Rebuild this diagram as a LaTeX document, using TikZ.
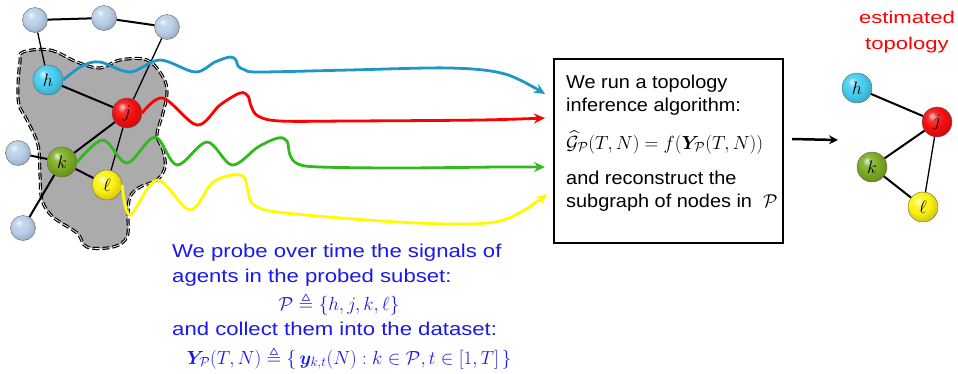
\RequirePackage{fix-cm}
\documentclass[tikz,border=0pt]{standalone}
\usepackage{amsmath,amssymb,bm}
\usepackage{fontspec}
\setmainfont{Liberation Sans}
\newfontfamily\boxfont[FakeStretch=1.07]{Liberation Sans}
\newfontfamily\bluefont[FakeStretch=1.19]{Liberation Sans}
\newfontfamily\redfont[FakeStretch=1.3]{Liberation Sans}
\usetikzlibrary{arrows.meta,shapes.geometric}
\definecolor{steel}{RGB}{185,208,232}
\definecolor{hcol}{RGB}{70,205,240}
\definecolor{jcol}{RGB}{245,15,15}
\definecolor{kcol}{RGB}{125,172,35}
\definecolor{lcol}{RGB}{252,242,20}
\definecolor{wblue}{RGB}{30,150,200}
\definecolor{wred}{RGB}{255,0,0}
\definecolor{wgreen}{RGB}{50,185,30}
\definecolor{wyellow}{RGB}{255,250,0}
\definecolor{txtblue}{RGB}{25,25,235}
\makeatletter
\pgfdeclareradialshading[tikz@ball]{glossy}{\pgfqpoint{-9bp}{11bp}}{%
  color(0bp)=(tikz@ball!20!white); color(8bp)=(tikz@ball!85!white);
  color(17bp)=(tikz@ball); color(26bp)=(tikz@ball!88!black);
  color(38bp)=(tikz@ball!65!black); color(50bp)=(tikz@ball!50!black)}
\makeatother
\begin{document}
\begin{tikzpicture}[x=1pt,y=-1pt,
  ball/.style={circle,minimum size=30pt,inner sep=0pt,ball color=#1,shading=glossy,draw=black!60,line width=0.4pt,
     font=\fontsize{18}{18}\selectfont},
  smallball/.style={ball=steel,minimum size=25pt},
  edge/.style={line width=2pt},
  thinedge/.style={line width=1.3pt},
  wave/.style={line width=2.8pt,-{Stealth[length=11pt,width=10pt]}},
  boxtxt/.style={font=\fontsize{18.6}{22}\boxfont,inner sep=0pt,anchor=base west},
  bluetxt/.style={font=\fontsize{18.6}{22}\bluefont,text=txtblue,inner sep=0pt,anchor=base west},
  mtxt/.style={font=\fontsize{19}{22}\selectfont,inner sep=0pt},
  redtxt/.style={font=\fontsize{17}{20}\redfont,text=red,anchor=base,inner sep=0pt}
]
\useasboundingbox (0,0) rectangle (958,373);
% probed subset blob
\draw[fill=black!33,line width=1.2pt,dashed,dash pattern=on 7pt off 3pt,double=white,double distance=0.7pt]
  plot[smooth cycle,tension=0.6] coordinates {
  (23,52) (50,50) (77,62) (100,68) (120,60) (147,60) (163,77) (167,93) (163,113)
  (157,135) (163,150) (165,167) (157,180) (140,187) (130,197) (128,215) (127,237)
  (113,247) (87,247) (77,233) (53,217) (42,200) (40,175) (38,145) (27,120) (19,105) (18,85) (20,62)};
% nodes
\node[smallball] (t1) at (35,20) {};
\node[smallball] (t2) at (104,18) {};
\node[smallball] (t3) at (167,27) {};
\node[smallball] (lf) at (18,153) {};
\node[smallball] (bl) at (23,228) {};
\coordinate (hp) at (48,80);
\coordinate (jp) at (127,113);
\coordinate (kp) at (62,162);
\coordinate (lp) at (107,185);
\draw[edge] (t1) -- (t2) -- (t3);
\draw[thinedge] (t1) -- (hp);
\draw[thinedge] (t3) -- (jp);
\draw[edge] (hp) -- (jp) -- (kp);
\draw[thinedge] (jp) -- (lp);
\draw[edge] (lf) -- (kp) -- (lp);
\draw[edge] (kp) -- (bl);
\node[ball=hcol] (h) at (hp) {$h$};
\node[ball=jcol] (j) at (jp) {$j$};
\node[ball=kcol] (k) at (kp) {$k$};
\node[ball=lcol] (l) at (lp) {$\ell$};
% box
\node[draw,line width=2pt,minimum width=229pt,minimum height=184pt,anchor=north west,inner sep=0pt] (box) at (553,58) {};
\node[boxtxt] (b1) at (566,88) {We run a topology};
\node[boxtxt] (b2) at (566,111) {inference algorithm:};
\node[mtxt,anchor=base west] (b3) at (566,149) {$\widehat{\mathcal{G}}_{\mathcal{P}}(T,N)=f(\bm{Y}_{\mathcal{P}}(T,N))$};
\node[boxtxt] (b4) at (566,184) {and reconstruct the};
\node[boxtxt] (b5) at (566,207) {subgraph of nodes in\ \ $\mathcal{P}$};
% wave endpoints
\coordinate (eb) at (545,94);
\coordinate (er) at (545,118);
\coordinate (eg) at (545,167);
\coordinate (ey) at (547,194);
\draw[wave,wblue] plot[smooth,tension=0.55] coordinates {(h.east) (82,66) (100,62) (130,72) (160,60) (195,72) (215,62) (230,57) (236,60) (238,66) (245,70) (260,72) (350,70) (450,68) (505,74) (eb)};
\draw[wave,wred] plot[smooth,tension=0.55] coordinates {(j.east) (163,98) (197,125) (220,105) (240,93) (248,96) (251,106) (258,116) (280,121) (350,121) (480,120) (er)};
\draw[wave,wgreen] plot[smooth,tension=0.55] coordinates {(k.east) (103,140) (127,163) (155,137) (177,165) (207,142) (232,165) (258,147) (278,138) (287,141) (290,155) (298,164) (320,167) (400,168) (500,167) (eg)};
\draw[wave,wyellow] plot[smooth,tension=0.55] coordinates {(l.east) (130,215) (157,180) (190,210) (212,183) (232,175) (244,177) (248,191) (254,205) (285,213) (417,223) (500,221) (ey)};
% blue text
\node[bluetxt] (p1) at (172,257) {We probe over time the signals of};
\node[bluetxt] (p2) at (172,282) {agents in the probed subset:};
\node[mtxt,anchor=base,text=txtblue] (p3) at (339,310) {$\mathcal{P}\triangleq\{h,j,k,\ell\}$};
\node[bluetxt] (p4) at (172,335) {and collect them into the dataset:};
\node[mtxt,anchor=base,text=txtblue] (p5) at (349,364) {$\bm{Y}_{\mathcal{P}}(T,N)\triangleq\{\,\bm{y}_{k,t}(N):k\in\mathcal{P},t\in[1,T]\,\}$};
% estimated topology
\node[redtxt] (e1) at (907,23) {estimated};
\node[redtxt] (e2) at (907,49) {topology};
\coordinate (a1) at (792,139);
\coordinate (a2) at (838,140);
\draw[line width=2.5pt,-{Stealth[length=9pt,width=9pt]}] (a1) -- (a2);
\coordinate (rh) at (857,88);
\coordinate (rj) at (937,122);
\coordinate (rk) at (872,167);
\coordinate (rl) at (923,207);
\draw[edge] (rh) -- (rj) -- (rk) -- (rl);
\draw[thinedge] (rj) -- (rl);
\node[ball=hcol] (h2) at (rh) {$h$};
\node[ball=jcol] (j2) at (rj) {$j$};
\node[ball=kcol] (k2) at (rk) {$k$};
\node[ball=lcol] (l2) at (rl) {$\ell$};
\end{tikzpicture}
\end{document}
